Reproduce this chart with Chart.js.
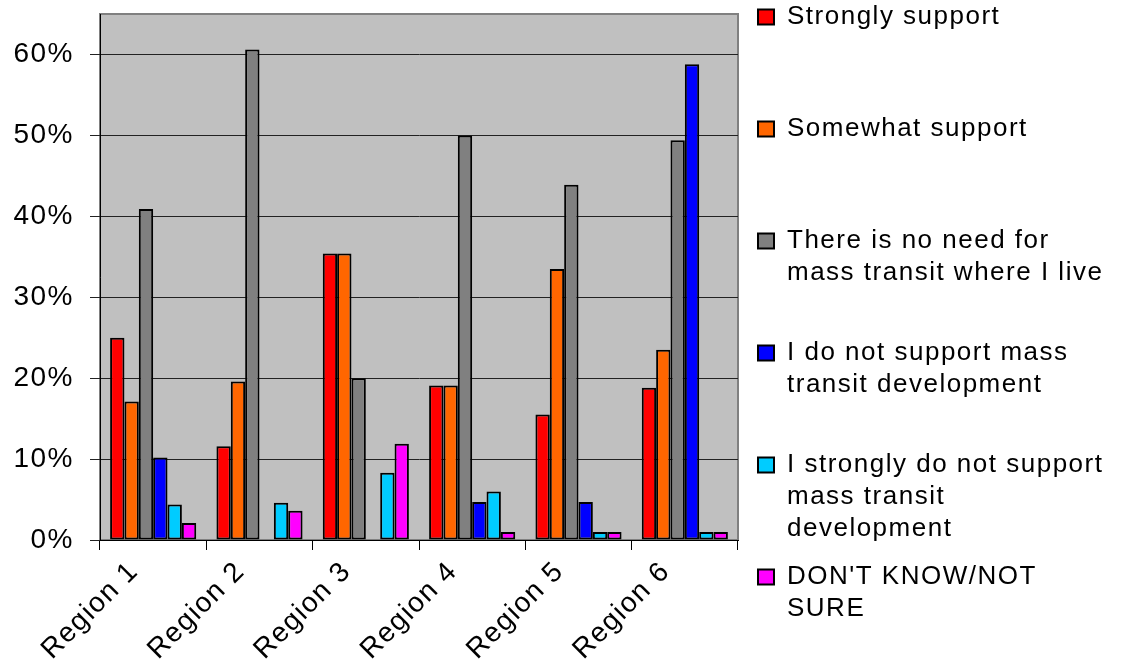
<!DOCTYPE html>
<html>
<head>
<meta charset="utf-8">
<script src="https://cdn.jsdelivr.net/npm/chart.js@4/dist/chart.umd.min.js"></script>
<style>
  html, body { margin: 0; padding: 0; background: #fff; }
  #wrap { width: 1122px; height: 666px; position: relative; }
</style>
</head>
<body>
<div id="wrap"><canvas id="chartCanvas"></canvas></div>
<script>
// values (percent)
const regions = ["Region 1", "Region 2", "Region 3", "Region 4", "Region 5", "Region 6"];
const stronglySupport = [25.0, 11.6, 35.4, 19.1, 15.5, 18.8];
const somewhatSupport = [17.1, 19.6, 35.4, 19.1, 33.5, 23.5];
const noNeed = [40.9, 60.6, 20.0, 50.0, 43.9, 49.4];
const notSupport = [10.2, 0, 0, 4.7, 4.7, 58.8];
const stronglyNotSupport = [4.4, 4.6, 8.3, 6.0, 1.0, 1.0];
const dontKnow = [2.1, 3.6, 11.9, 1.0, 1.0, 1.0];
const yTicks = [0, 10, 20, 30, 40, 50, 60];

const seriesNames = [
    "Strongly support",
    "Somewhat support",
    "There is no need for mass transit where I live",
    "I do not support mass transit development",
    "I strongly do not support mass transit development",
    "DON'T KNOW/NOT SURE",
];
// legend text split as in the picture
const legendLines = [
    ["Strongly support"],
    ["Somewhat support"],
    ["There is no need for", "mass transit where I live"],
    ["I do not support mass", "transit development"],
    ["I strongly do not support", "mass transit", "development"],
    ["DON'T KNOW/NOT", "SURE"],
];
const colors = ["#FF0000", "#FF6600", "#808080", "#0000FF", "#00CCFF", "#FF00FF"];

const FONT = "'Liberation Sans', Arial, sans-serif";

const spacing = {
    id: "spacing",
    beforeUpdate(chart) { chart.ctx.letterSpacing = "1.5px"; },
    beforeDraw(chart) { chart.ctx.letterSpacing = "1.5px"; },
};

const plotBg = {
    id: "plotBg",
    afterLayout(chart) {
        // legend sits higher and a bit further right than Chart.js would put it
        chart.legend.top -= 26;
        chart.legend.bottom -= 26;
        chart.legend.left += 4;
        chart.legend.right += 4;
    },
    beforeDraw(chart) {
        const { ctx, chartArea: a } = chart;
        ctx.save();
        ctx.fillStyle = "#C0C0C0";
        ctx.fillRect(a.left, a.top, a.right - a.left, a.bottom - a.top);
        ctx.strokeStyle = "#808080";
        ctx.lineWidth = 2;
        ctx.strokeRect(a.left, a.top, a.right - a.left, a.bottom - a.top);
        ctx.restore();
    },
};

const allSeries = [stronglySupport, somewhatSupport, noNeed, notSupport, stronglyNotSupport, dontKnow];

new Chart(document.getElementById("chartCanvas").getContext("2d"), {
    type: "bar",
    data: {
        labels: regions,
        datasets: allSeries.map((vals, i) => ({
            label: seriesNames[i],
            data: vals,
            backgroundColor: colors[i],
            borderColor: "#000",
            borderWidth: 2,
            borderSkipped: false,
            categoryPercentage: 0.81,
            barPercentage: 1.0,
        })),
    },
    options: {
        responsive: true,
        maintainAspectRatio: false,
        animation: false,
        layout: { padding: { top: 14, left: 0, right: 0, bottom: 0 } },
        plugins: {
            tooltip: { enabled: false },
            legend: {
                position: "right",
                align: "start",
                maxWidth: 384,
                labels: {
                    boxWidth: 16,
                    boxHeight: 15,
                    padding: 16,
                    color: "#000",
                    font: { family: FONT, size: 26, lineHeight: 32 / 26 },
                    generateLabels(chart) {
                        const items = Chart.defaults.plugins.legend.labels.generateLabels(chart);
                        return items.map((it, i) => {
                            const lines = legendLines[i].slice();
                            // keep every item three lines tall so they sit evenly
                            if (i < items.length - 1) while (lines.length < 3) lines.push("");
                            return Object.assign(it, { text: lines, lineWidth: 2, strokeStyle: "#000" });
                        });
                    },
                },
            },
        },
        scales: {
            x: {
                grid: { display: true, drawOnChartArea: false, drawTicks: true, tickLength: 10, color: "#000", offset: true },
                border: { display: true, color: "#000", width: 1 },
                ticks: {
                    color: "#000",
                    minRotation: 45,
                    maxRotation: 45,
                    padding: 5,
                    labelOffset: -19,
                    font: { family: FONT, size: 28 },
                },
                afterFit(scale) {
                    scale.height = 126;
                    scale.paddingLeft = 0;
                    scale.paddingRight = 0;
                },
            },
            y: {
                min: 0,
                max: 65,
                afterBuildTicks(scale) { scale.ticks = yTicks.map((v) => ({ value: v })); },
                grid: { color: "#222", lineWidth: 1, tickLength: 10, drawTicks: true },
                border: { display: true, color: "#000", width: 1 },
                ticks: {
                    color: "#000",
                    padding: 16,
                    font: { family: FONT, size: 28 },
                    callback: (v) => v + "%",
                },
                afterFit(scale) {
                    scale.width = 100;
                    scale.paddingTop = 0;
                    scale.paddingBottom = 0;
                },
            },
        },
    },
    plugins: [spacing, plotBg],
});
</script>
</body>
</html>
